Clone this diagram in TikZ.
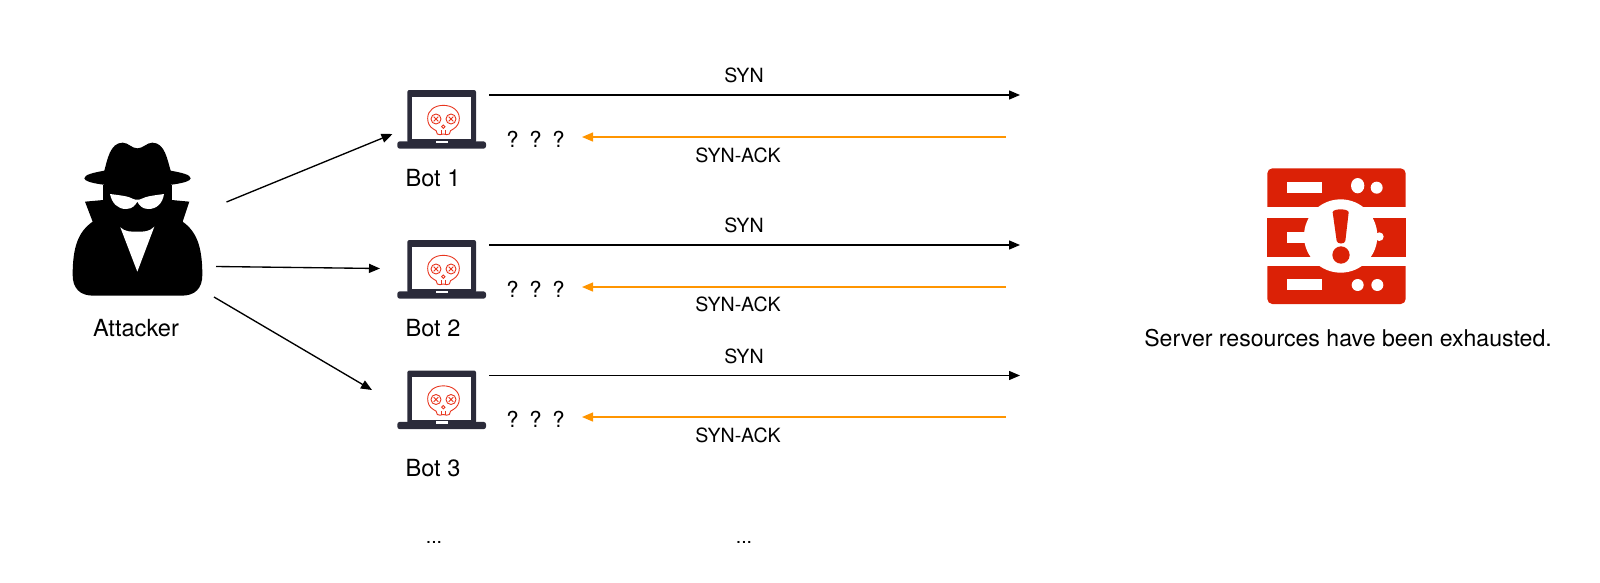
\documentclass[tikz,border=0pt]{standalone}
\usepackage{fontspec}
\setmainfont{TeX Gyre Heros}
\usetikzlibrary{arrows.meta}
\definecolor{laptopdark}{HTML}{2B2B3A}
\definecolor{skullred}{HTML}{E8361F}
\definecolor{serverred}{HTML}{DB2106}
\definecolor{replyorange}{HTML}{FF9500}
\tikzset{
  flow/.style={line width=1.35pt,-{Triangle[length=11pt,width=9pt]}},
  synline/.style={flow,black},
  ackline/.style={flow,replyorange},
  biglabel/.style={font=\fontsize{23.6}{26}\selectfont,inner sep=0pt},
  smalllabel/.style={font=\fontsize{19.6}{22}\selectfont,inner sep=0pt},
  querylabel/.style={font=\fontsize{22}{24}\selectfont,inner sep=0pt},
  pics/laptop/.style={code={
    % lid, screen and base
    \fill[laptopdark,rounded corners=2pt] (82,45) rectangle (288,204);
    \fill[white] (97,65) rectangle (273,192);
    \fill[laptopdark,rounded corners=2.5pt] (52,199) -- (318,199) -- (318,221) -- (52,221) -- cycle;
    \fill[white] (168,197) rectangle (204,204);
    % skull outline
    \begin{scope}[skullred,line width=0.9pt]
      \draw (172,177) .. controls (170,168) and (168,164) .. (160,162)
        .. controls (148,155) and (143,143) .. (143,130)
        .. controls (143,106) and (164,91) .. (190,91)
        .. controls (216,91) and (238,106) .. (238,130)
        .. controls (238,143) and (232,155) .. (220,162)
        .. controls (212,164) and (210,168) .. (208,177)
        -- (200,179) -- (190,177) -- (180,179) -- cycle;
      \draw (168,132) circle (15);
      \draw (213,132) circle (15);
      \draw (161,125) -- (175,139) (161,139) -- (175,125);
      \draw (206,125) -- (220,139) (206,139) -- (220,125);
      \draw (190,155) circle (5);
      \draw (184,166) -- (184,177) (196,166) -- (196,177);
    \end{scope}
  }},
}
\begin{document}
\begin{tikzpicture}[x=1pt,y=-1pt]
\useasboundingbox (0,0) rectangle (1600,582);

% attacker figure
\begin{scope}[shift={(50,120)},scale=1/3]
  % hat
  \fill[black] (163,152) .. controls (172,120) and (180,68) .. (218,68)
    .. controls (235,68) and (245,85) .. (262,85)
    .. controls (280,85) and (290,68) .. (307,68)
    .. controls (345,68) and (352,120) .. (362,152)
    .. controls (395,158) and (422,164) .. (422,175)
    .. controls (422,190) and (340,200) .. (262,200)
    .. controls (185,200) and (103,190) .. (103,175)
    .. controls (103,164) and (130,158) .. (163,152) -- cycle;
  % head
  \fill[black] (160,195) rectangle (365,280);
  % coat
  \fill[black] (105,245) -- (160,240) -- (365,240) -- (418,245) -- (398,305)
    .. controls (440,335) and (457,380) .. (457,465)
    .. controls (457,505) and (435,527) .. (395,527)
    -- (130,527)
    .. controls (90,527) and (68,505) .. (68,465)
    .. controls (68,380) and (85,335) .. (128,305) -- cycle;
  % glasses
  \fill[white] (180,222) .. controls (210,226) and (235,228) .. (250,237)
    .. controls (255,240) and (268,240) .. (273,237)
    .. controls (290,228) and (315,226) .. (342,222)
    .. controls (338,250) and (320,267) .. (295,267)
    .. controls (275,267) and (268,255) .. (262,245)
    .. controls (256,255) and (248,267) .. (228,267)
    .. controls (203,267) and (186,250) .. (180,222) -- cycle;
  % shirt
  \fill[white] (211,322) .. controls (225,336) and (245,335) .. (262,335)
    .. controls (280,335) and (298,336) .. (313,320)
    -- (262,455) -- cycle;
\end{scope}
\node[biglabel] (attacker) at (136,328) {Attacker};

% bots
\pic (lapa) at (380,75) [scale=1/3] {laptop};
\pic (lapb) at (380,225) [scale=1/3] {laptop};
\pic (lapc) at (380,355.5) [scale=1/3] {laptop};
\node[biglabel] (bota) at (433,178.5) {Bot 1};
\node[biglabel] (botb) at (433,328.5) {Bot 2};
\node[biglabel] (botc) at (433,468.5) {Bot 3};
\node[smalllabel] (dotsa) at (434,542) {...};
\node[smalllabel] (dotsb) at (744,542) {...};

% attacker to bots
\coordinate (atkA) at (226.5,202);
\coordinate (atkB) at (216,266.5);
\coordinate (atkC) at (214,297);
\coordinate (inA) at (392.5,134);
\coordinate (inB) at (380,268.5);
\coordinate (inC) at (372,390);
\draw[synline] (atkA) -- (inA);
\draw[synline] (atkB) -- (inB);
\draw[synline] (atkC) -- (inC);

% handshake rows
\foreach \rowname/\ysyn/\yack/\ysynl/\yackl in {a/95/137/75.5/155.5,b/245/287/225.5/304.5,c/375.5/417/356.5/435}{
  \coordinate (syn\rowname s) at (489,\ysyn);
  \coordinate (syn\rowname e) at (1020,\ysyn);
  \coordinate (ack\rowname s) at (1006,\yack);
  \coordinate (ack\rowname e) at (582,\yack);
  \draw[synline] (syn\rowname s) -- (syn\rowname e);
  \draw[ackline] (ack\rowname s) -- (ack\rowname e);
  \node[smalllabel] (synl\rowname) at (744,\ysynl) {SYN};
  \node[smalllabel] (ackl\rowname) at (738,\yackl) {SYN-ACK};
  \node[querylabel] (qa\rowname) at (512.5,\yack+2) {?};
  \node[querylabel] (qb\rowname) at (535.5,\yack+2) {?};
  \node[querylabel] (qc\rowname) at (558.5,\yack+2) {?};
}

% overloaded server
\begin{scope}[shift={(1250,155)},scale=1/3]
  \fill[serverred,rounded corners=5pt] (52,175) -- (52,40) -- (467,40) -- (467,175) -- cycle;
  \fill[white] (52,155) rectangle (467,190);
  \fill[serverred] (52,190) rectangle (467,305);
  \fill[serverred,rounded corners=5pt] (52,320) -- (467,320) -- (467,447) -- (52,447) -- cycle;
  \fill[white] (52,305) rectangle (467,332);
  \fill[white] (110,80) rectangle (215,114);
  \fill[white] (323,92) ellipse (20 and 23);
  \fill[white] (380,98) circle (18);
  \fill[white] (110,232) rectangle (215,265);
  \fill[white] (388,245) circle (13);
  \fill[white] (110,372) rectangle (215,406);
  \fill[white] (323,390) circle (18);
  \fill[white] (382,390) circle (18);
  \fill[white] (272,243) circle (110);
  \fill[serverred] (248,172) .. controls (248,160) and (296,160) .. (296,172)
    -- (286,258) .. controls (284,268) and (262,268) .. (260,258) -- cycle;
  \fill[serverred] (273,300) circle (26);
\end{scope}
\node[biglabel,font=\fontsize{23.1}{26}\selectfont] (srv) at (1348,338) {Server resources have been exhausted.};
\end{tikzpicture}
\end{document}
